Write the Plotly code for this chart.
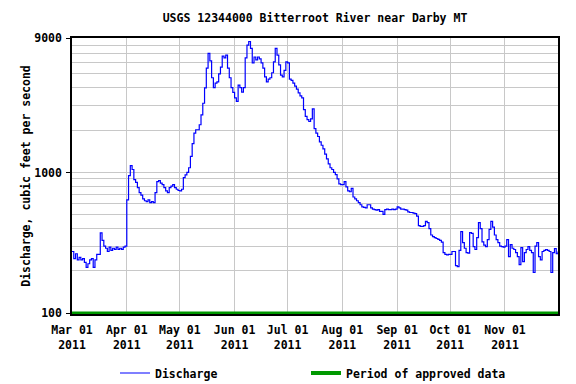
import math
import pandas as pd
import plotly.graph_objects as go

title_text = "USGS 12344000 Bitterroot River near Darby MT"
y_title = "Discharge, cubic feet per second"

start_date = "2011-03-01"
end_date = "2011-12-01"

# Daily discharge (cfs), Mar 1 2011 .. Dec 1 2011
discharge = [
    275, 245, 265, 240, 250, 240, 245, 230, 212, 225,
    240, 245, 212, 240, 262, 262, 373, 330, 300, 290,
    275, 295, 280, 290, 285, 295, 285, 290, 285, 295,
    300, 640, 950, 1120, 1050, 890, 850, 780, 720, 690,
    650, 630, 620, 640, 610, 620, 610, 720, 860, 875,
    840, 820, 780, 740, 720, 780, 800, 820, 780, 760,
    745, 740, 760, 920, 960, 1000, 1080, 1300, 1600, 1900,
    2010, 2010, 2180, 2560, 3100, 3980, 5500, 7000, 6200, 4700,
    4000, 4300, 4400, 5000, 5600, 6700, 6500, 6800, 5500, 4700,
    4000, 3700, 3380, 3200, 4170, 4000, 3720, 4000, 6500, 8000,
    8500, 7600, 6000, 6600, 6300, 6600, 6400, 6000, 5500, 4770,
    4400, 4600, 4700, 5100, 6100, 7600, 6800, 5800, 4900, 4770,
    5300, 6100, 6000, 4600, 4500, 4300, 4100, 3900, 3670, 3500,
    3380, 2790, 2500, 2370, 2300, 2400, 2830, 2050, 1900, 1800,
    1650, 1560, 1470, 1350, 1250, 1150, 1080, 1050, 1000, 965,
    900, 830, 820, 820, 860, 790, 740, 730, 770, 670,
    650, 630, 610, 590, 570, 565, 560, 590, 590, 560,
    550, 545, 540, 545, 530, 530, 505, 545, 550, 545,
    545, 550, 545, 550, 570, 560, 550, 550, 545, 540,
    525, 520, 520, 515, 510, 490, 420, 415, 415, 420,
    450, 440, 400, 360, 350, 345, 340, 335, 330, 320,
    270, 262, 260, 262, 262, 275, 275, 218, 215, 280,
    380, 318, 290, 270, 268, 374, 370, 298, 284, 345,
    440, 400, 322, 305, 298, 334, 395, 450, 410, 360,
    334, 318, 300, 298, 295, 300, 334, 253, 308, 290,
    284, 270, 253, 222, 293, 233, 270, 284, 298, 280,
    270, 195, 300, 318, 253, 240, 275, 280, 284, 280,
    275, 195, 270, 288, 265, 275,
]
dates = pd.date_range(start_date, periods=len(discharge), freq="D")

approved_dates = [start_date, end_date]
approved_level = [100, 100]

month_ticks = ["2011-03-01", "2011-04-01", "2011-05-01", "2011-06-01", "2011-07-01",
               "2011-08-01", "2011-09-01", "2011-10-01", "2011-11-01"]
month_labels = ["Mar 01<br>2011", "Apr 01<br>2011", "May 01<br>2011", "Jun 01<br>2011",
                "Jul 01<br>2011", "Aug 01<br>2011", "Sep 01<br>2011", "Oct 01<br>2011",
                "Nov 01<br>2011"]
y_ticks = [100, 1000, 9000]
y_tick_labels = ["100", "1000", "9000"]
y_grid = [200, 300, 400, 500, 600, 700, 800, 900,
          2000, 3000, 4000, 5000, 6000, 7000, 8000]

FONT = "DejaVu Sans Mono"
fsize = 11.5

fig = go.Figure()
fig.add_trace(go.Scatter(
    x=dates, y=discharge, mode="lines", name="Discharge", legend="legend",
    line=dict(color="#0000ff", width=1.2, shape="hv"),
))
fig.add_trace(go.Scatter(
    x=approved_dates, y=approved_level, mode="lines", name="Period of approved data",
    legend="legend2",
    line=dict(color="#009900", width=4),
))

legend_common = dict(orientation="h", xref="container", yref="container",
                     xanchor="left", yanchor="middle",
                     font=dict(family=FONT, size=fsize, weight="bold"),
                     bgcolor="rgba(0,0,0,0)")

fig.update_layout(
    width=576, height=384,
    margin=dict(l=72, r=18, t=38, b=70, autoexpand=False),
    paper_bgcolor="white", plot_bgcolor="white",
    font=dict(family=FONT, size=fsize, color="black", weight="bold"),
    title=dict(text=title_text, x=0.5, xref="paper", xanchor="center",
               y=1 - 18 / 384, yref="container", yanchor="middle",
               font=dict(family=FONT, size=fsize, weight="bold")),
    showlegend=True,
    legend=dict(x=115 / 576, y=1 - 373 / 384, **legend_common),
    legend2=dict(x=306 / 576, y=1 - 373 / 384, **legend_common),
)

fig.update_xaxes(
    type="date", range=[start_date, end_date],
    tickmode="array", tickvals=month_ticks, ticktext=month_labels,
    showgrid=True, gridcolor="#c8c8c8", gridwidth=1,
    showline=True, linecolor="black", linewidth=1.5, mirror=True,
    ticks="", ticklabelstandoff=4, automargin=False,
    layer="below traces", zeroline=False,
    tickfont=dict(family=FONT, size=fsize, weight="bold"),
)

fig.update_yaxes(
    type="log", range=[math.log10(99), math.log10(9000)],
    tickmode="array", tickvals=y_ticks, ticktext=y_tick_labels,
    showgrid=True, gridcolor="#c8c8c8", gridwidth=1,
    minor=dict(tickmode="array", tickvals=y_grid, showgrid=True,
               gridcolor="#c8c8c8", gridwidth=1, ticks=""),
    showline=True, linecolor="black", linewidth=1.5, mirror=True,
    ticks="outside", ticklen=4, tickcolor="black", tickwidth=1,
    ticklabelstandoff=2, automargin=False,
    layer="below traces", zeroline=False,
    tickfont=dict(family=FONT, size=fsize, weight="bold"),
    title=dict(text=y_title, standoff=1,
               font=dict(family=FONT, size=fsize, weight="bold")),
)

fig.write_html("out.html",
               config={"displayModeBar": False},
               post_script="document.body.style.margin='0px';document.body.style.overflow='hidden';")
